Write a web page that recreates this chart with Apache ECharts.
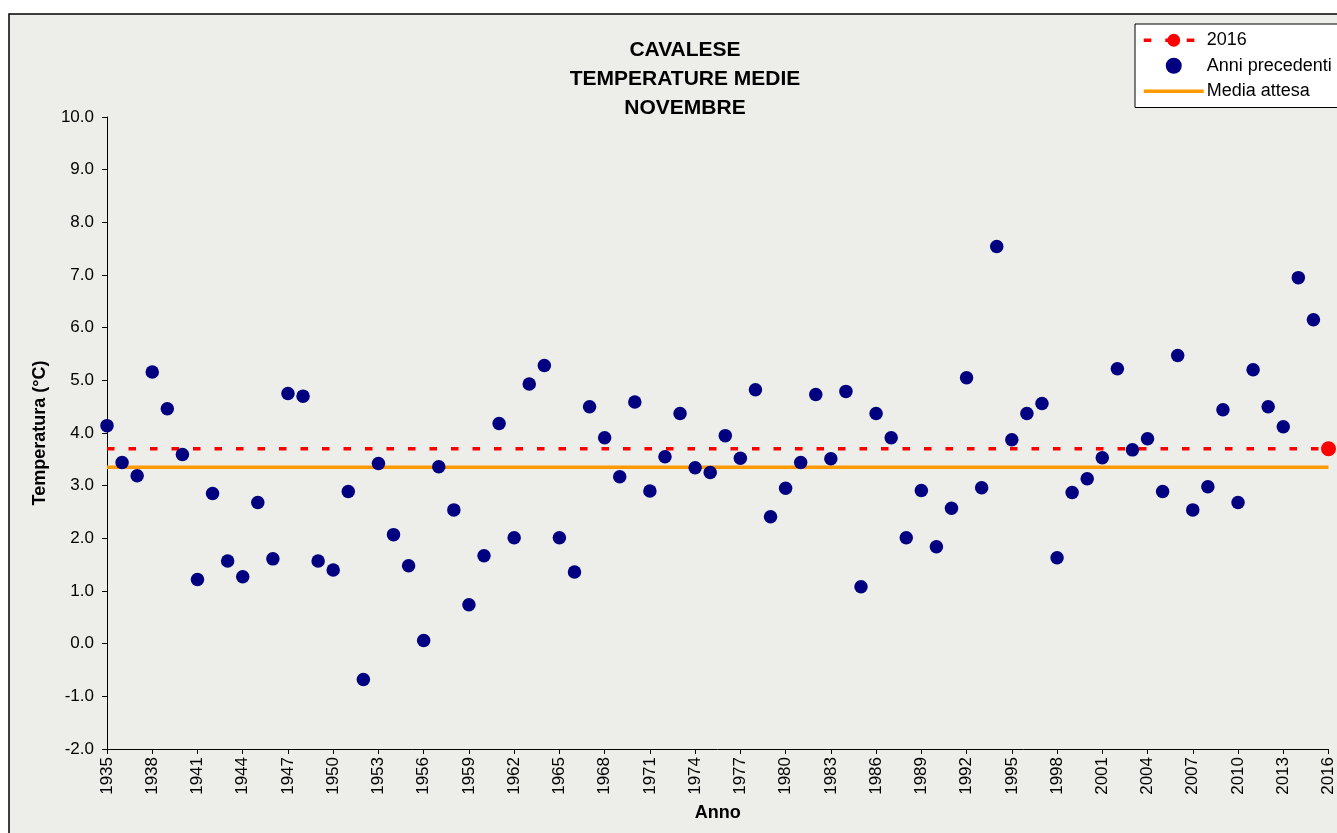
<!DOCTYPE html>
<html>
<head>
<meta charset="utf-8">
<style>
html,body{margin:0;padding:0;background:#ffffff;}
#chart{width:1337px;height:833px;}
</style>
<script src="https://cdn.jsdelivr.net/npm/echarts@6/dist/echarts.min.js"></script>
</head>
<body>
<div id="chart"></div>
<script>
// ---- Data ----
const years = [1935,1936,1937,1938,1939,1940,1941,1942,1943,1944,1945,1946,1947,1948,1949,1950,
  1951,1952,1953,1954,1955,1956,1957,1958,1959,1960,1961,1962,1963,1964,1965,1966,1967,1968,1969,1970,
  1971,1972,1973,1974,1975,1976,1977,1978,1979,1980,1981,1982,1983,1984,1985,1986,1987,1988,1989,1990,
  1991,1992,1993,1994,1995,1996,1997,1998,1999,2000,2001,2002,2003,2004,2005,2006,2007,2008,2009,2010,
  2011,2012,2013,2014,2015];
const temps = [4.14,3.44,3.19,5.16,4.46,3.59,1.22,2.85,1.57,1.27,2.68,1.61,4.75,4.70,1.57,1.40,
  2.89,-0.68,3.42,2.07,1.48,0.06,3.36,2.54,0.74,1.67,4.18,2.01,4.93,5.28,2.01,1.36,4.50,3.91,3.17,4.59,
  2.90,3.55,4.37,3.34,3.25,3.95,3.52,4.82,2.41,2.95,3.44,4.73,3.51,4.79,1.08,4.37,3.91,2.01,2.91,1.84,
  2.57,5.05,2.96,7.54,3.87,4.37,4.56,1.63,2.87,3.13,3.53,5.22,3.68,3.89,2.89,5.47,2.54,2.98,4.44,2.68,
  5.20,4.50,4.12,6.95,6.15];
const year2016 = 2016;
const temp2016 = 3.70;
const mediaAttesa = 3.35;
const xMin = 1935, xMax = 2016;
const yMin = -2, yMax = 10;
const legendNames = ['2016', 'Anni precedenti', 'Media attesa'];

const scatterData = years.map((y, i) => [y, temps[i]]);

const chart = echarts.init(document.getElementById('chart'));
const FONT = 'Liberation Sans, Arial, sans-serif';

chart.setOption({
  animation: false,
  backgroundColor: '#ffffff',
  graphic: [{
    type: 'rect', z: -10, silent: true,
    shape: {x: 9, y: 14, width: 1340, height: 830},
    style: {fill: '#edede a'.replace(' ', ''), stroke: '#000000', lineWidth: 1.5}
  }],
  title: {
    text: 'CAVALESE\nTEMPERATURE MEDIE\nNOVEMBRE',
    left: 680, top: 31, textAlign: 'center',
    textStyle: {fontFamily: FONT, fontSize: 21, fontWeight: 'bold', color: '#000', lineHeight: 29}
  },
  legend: {
    orient: 'vertical', left: 1135, top: 24,
    padding: [6, 40, 6, 7],
    itemWidth: 60, itemHeight: 16, itemGap: 5,
    backgroundColor: '#ffffff', borderColor: '#000000', borderWidth: 1,
    lineStyle: {width: 'inherit', type: 'inherit'},
    textStyle: {fontFamily: FONT, fontSize: 18, color: '#000', lineHeight: 20.5, padding: [0,0,0,-2]},
    data: [
      {name: legendNames[0]},
      {name: legendNames[1]},
      {name: legendNames[2], itemStyle: {opacity: 0}}
    ]
  },
  grid: {left: 107, right: 6, top: 117, bottom: 84, containLabel: false},
  xAxis: {
    type: 'value', min: xMin, max: xMax, interval: 3,
    name: 'Anno', nameLocation: 'middle', nameGap: 55,
    nameTextStyle: {fontFamily: FONT, fontSize: 18, fontWeight: 'bold', color: '#000'},
    axisLine: {show: true, onZero: false, lineStyle: {color: '#000', width: 1}},
    axisTick: {show: true, length: 5, lineStyle: {color: '#000'}},
    axisLabel: {rotate: 90, margin: 8, fontFamily: FONT, fontSize: 17, color: '#000',
      formatter: v => String(v)},
    splitLine: {show: false}
  },
  yAxis: {
    type: 'value', min: yMin, max: yMax, interval: 1,
    name: 'Temperatura (°C)', nameLocation: 'middle', nameGap: 58,
    nameTextStyle: {fontFamily: FONT, fontSize: 18, fontWeight: 'bold', color: '#000'},
    axisLine: {show: true, lineStyle: {color: '#000', width: 1}},
    axisTick: {show: true, length: 5, lineStyle: {color: '#000'}},
    axisLabel: {margin: 13, fontFamily: FONT, fontSize: 17, color: '#000',
      formatter: v => v.toFixed(1)},
    splitLine: {show: false}
  },
  series: [
    {
      name: legendNames[2], type: 'line', symbol: 'none', z: 2,
      lineStyle: {color: '#FF9900', width: 3.5},
      itemStyle: {color: '#FF9900'},
      data: [[xMin, mediaAttesa], [xMax, mediaAttesa]]
    },
    {
      name: legendNames[0], type: 'line', z: 3,
      symbol: 'circle', symbolSize: 15,
      lineStyle: {color: '#FF0000', width: 3.5, type: [7.5, 14]},
      itemStyle: {color: '#FF0000'},
      data: [{value: [xMin, temp2016], symbol: 'none'}, {value: [year2016, temp2016]}]
    },
    {
      name: legendNames[1], type: 'scatter', z: 4,
      symbol: 'circle', symbolSize: 13.5,
      itemStyle: {color: '#000080', opacity: 1},
      data: scatterData
    }
  ]
});
</script>
</body>
</html>
